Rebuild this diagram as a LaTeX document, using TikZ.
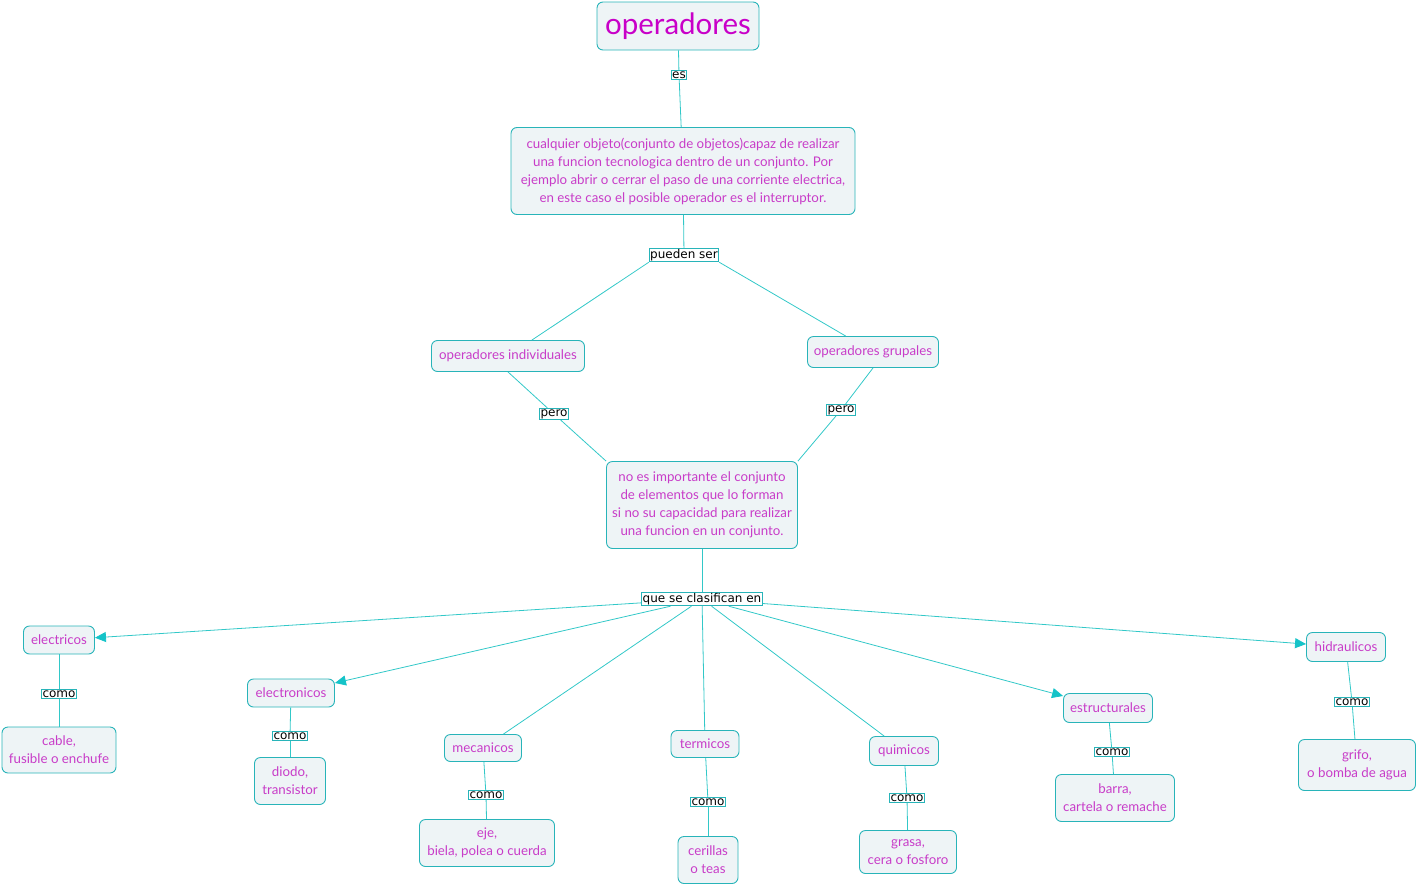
\documentclass[tikz,border=0pt]{standalone}
\usepackage{fontspec}
\setmainfont{Lato}
\newfontfamily\lblfont{DejaVu Sans}
\usetikzlibrary{arrows.meta}
\definecolor{bordc}{RGB}{40,180,185}
\definecolor{fillc}{RGB}{238,244,246}
\definecolor{linec}{RGB}{50,200,200}
\definecolor{txtc}{RGB}{200,60,200}
\definecolor{titc}{RGB}{200,0,200}
\definecolor{arrc}{RGB}{20,195,200}
\tikzset{
  concept/.style={draw=bordc, line width=0.9pt, fill=fillc, rounded corners=6pt,
    text=txtc, align=center, inner sep=1pt,
    font=\fontsize{13.3}{18}\selectfont},
  lbl/.style={draw=bordc, line width=0.8pt, fill=white, text=black, inner sep=1pt,
    font=\lblfont\fontsize{12}{13}\selectfont},
  conn/.style={draw=linec, line width=0.8pt},
  arr/.style={conn, -{Triangle[length=11pt,width=10pt,fill=arrc,color=arrc]}},
}
\begin{document}
\begin{tikzpicture}[x=1pt,y=-1pt]
\useasboundingbox (0,0) rectangle (1418,886);
% concepts
\node[concept, minimum width=162pt, minimum height=48pt, text=titc, font=\fontsize{29.5}{31}\selectfont] (title) at (678,26) {operadores};
\node[concept, minimum width=344pt, minimum height=87pt] (main) at (683,171) {cualquier objeto(conjunto de objetos)capaz de realizar\\ una funcion tecnologica dentro de un conjunto. Por\\ ejemplo abrir o cerrar el paso de una corriente electrica,\\ en este caso el posible operador es el interruptor.};
\node[concept, minimum width=153pt, minimum height=31pt] (ind) at (508,356) {operadores individuales};
\node[concept, minimum width=131pt, minimum height=31pt] (grp) at (873,352) {operadores grupales};
\node[concept, minimum width=191pt, minimum height=87pt] (noes) at (702,505) {no es importante el conjunto\\ de elementos que lo forman\\ si no su capacidad para realizar\\ una funcion en un conjunto.};
\node[concept, minimum width=71pt, minimum height=28pt] (elec) at (59,640) {electricos};
\node[concept, minimum width=114pt, minimum height=46pt] (cable) at (59,750) {cable,\\ fusible o enchufe};
\node[concept, minimum width=87pt, minimum height=28pt] (etron) at (291,693) {electronicos};
\node[concept, minimum width=71pt, minimum height=47pt] (diodo) at (290,781) {diodo,\\ transistor};
\node[concept, minimum width=77pt, minimum height=27pt] (mec) at (483,748) {mecanicos};
\node[concept, minimum width=135pt, minimum height=47pt] (eje) at (487,843) {eje,\\ biela, polea o cuerda};
\node[concept, minimum width=68pt, minimum height=27pt] (term) at (705,744) {termicos};
\node[concept, minimum width=60pt, minimum height=47pt] (cer) at (708,860) {cerillas\\ o teas};
\node[concept, minimum width=69pt, minimum height=29pt] (quim) at (904,751) {quimicos};
\node[concept, minimum width=97pt, minimum height=43pt] (grasa) at (908,852) {grasa,\\ cera o fosforo};
\node[concept, minimum width=89pt, minimum height=29pt] (estr) at (1108,708) {estructurales};
\node[concept, minimum width=119pt, minimum height=47pt] (barra) at (1115,798) {barra,\\ cartela o remache};
\node[concept, minimum width=79pt, minimum height=29pt] (hidr) at (1346,647) {hidraulicos};
\node[concept, minimum width=117pt, minimum height=51pt] (grifo) at (1357,765) {grifo,\\ o bomba de agua};
% labels
\node[lbl] (es) at (679,75) {es};
\node[lbl] (pueden) at (684,255) {pueden ser};
\node[lbl] (pero1) at (554,414) {pero};
\node[lbl] (pero2) at (841,410) {pero};
\node[lbl] (clas) at (702,599) {que se clasifican en};
\node[lbl] (como1) at (59,694) {como};
\node[lbl] (como2) at (290,736) {como};
\node[lbl] (como3) at (486,795) {como};
\node[lbl] (como4) at (708,802) {como};
\node[lbl] (como5) at (907,798) {como};
\node[lbl] (como6) at (1112,752) {como};
\node[lbl] (como7) at (1352,702) {como};
% connectors
\draw[conn] (title) -- (es);
\draw[conn] (es) -- (main);
\draw[conn] (main) -- (pueden);
\draw[conn] (pueden.south west) -- (ind);
\draw[conn] (pueden.south east) -- (grp);
\draw[conn] (ind.south) -- (pero1);
\draw[conn] (pero1) -- (noes.north west);
\draw[conn] (grp.south) -- (pero2);
\draw[conn] (pero2) -- (noes.north east);
\draw[conn] (noes) -- (clas);
\draw[arr] (clas) -- (elec);
\draw[arr] (clas) -- (etron);
\draw[conn] (clas) -- (mec);
\draw[conn] (clas) -- (term);
\draw[conn] (clas) -- (quim);
\draw[arr] (clas) -- (estr);
\draw[arr] (clas) -- (hidr);
\draw[conn] (elec) -- (como1);
\draw[conn] (como1) -- (cable);
\draw[conn] (etron) -- (como2);
\draw[conn] (como2) -- (diodo);
\draw[conn] (mec) -- (como3);
\draw[conn] (como3) -- (eje);
\draw[conn] (term) -- (como4);
\draw[conn] (como4) -- (cer);
\draw[conn] (quim) -- (como5);
\draw[conn] (como5) -- (grasa);
\draw[conn] (estr) -- (como6);
\draw[conn] (como6) -- (barra);
\draw[conn] (hidr) -- (como7);
\draw[conn] (como7) -- (grifo);
\end{tikzpicture}
\end{document}
